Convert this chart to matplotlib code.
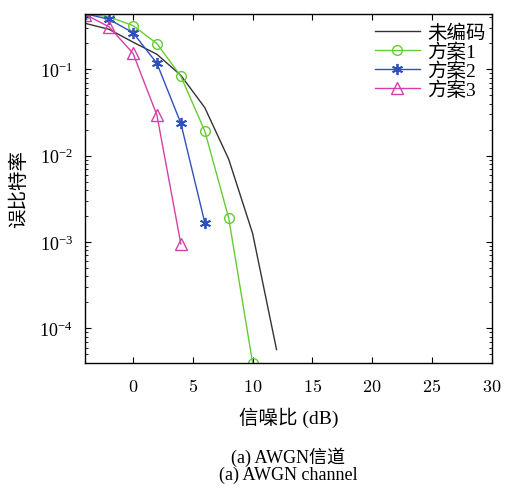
import matplotlib
matplotlib.use("Agg")
from matplotlib import pyplot as plt
import numpy as np

# SNR (dB) and BER
snr_uncoded = [-4, -2, 0, 2, 4, 6, 8, 10, 12]
ber_uncoded = [0.34, 0.29, 0.206, 0.149, 0.085, 0.036, 0.0091, 0.00126, 5.7e-5]

snr_s1 = [-4, -2, 0, 2, 4, 6, 8, 10]
ber_s1 = [0.44, 0.405, 0.32, 0.198, 0.083, 0.0193, 0.0019, 4.0e-5]

snr_s2 = [-4, -2, 0, 2, 4, 6]
ber_s2 = [0.44, 0.378, 0.265, 0.117, 0.0237, 0.00168]

snr_s3 = [-4, -2, 0, 2, 4]
ber_s3 = [0.43, 0.31, 0.153, 0.0294, 0.00095]

labels = ["未编码", "方案1", "方案2", "方案3"]
xticks = [0, 5, 10, 15, 20, 25, 30]

plt.rcParams['mathtext.fontset'] = 'cm'
plt.rcParams['font.family'] = ['Liberation Serif', 'Noto Sans CJK SC']
plt.rcParams['xtick.direction'] = 'in'
plt.rcParams['ytick.direction'] = 'in'
plt.rcParams['xtick.top'] = True
plt.rcParams['ytick.right'] = True

fig = plt.figure(figsize=(5.07, 4.89), dpi=100)
ax = fig.add_axes([0.168, 0.256, 0.802, 0.714])

ax.plot(snr_uncoded, ber_uncoded, color="#333333", lw=1.0, label=labels[0])
ax.plot(snr_s1, ber_s1, color="#66cc33", lw=1.0, marker="o", ms=7,
        mfc="none", mec="#66cc33", label=labels[1])
ax.plot(snr_s2, ber_s2, color="#3050c0", lw=1.0, marker=(6, 2, 0), ms=8,
        mew=1.3, label=labels[2])
ax.plot(snr_s3, ber_s3, color="#d63fa8", lw=1.0, marker="^", ms=8,
        mfc="none", mec="#d63fa8", label=labels[3])

ax.set_yscale("log")
ax.set_xlim(-4, 30)
ax.set_ylim(4.0e-5, 0.44)
ax.set_xticks(xticks)
ax.set_xticklabels([f"${t}$" for t in xticks])
ax.tick_params(labelsize=13, length=4, width=0.8)
ax.tick_params(axis="x", pad=11)
ax.tick_params(axis="y", pad=9)
ax.tick_params(which="minor", length=2, width=0.6)
for s in ax.spines.values():
    s.set_linewidth(1.0)

ax.set_xlabel("信噪比 (dB)", fontsize=14, labelpad=8)
ax.set_ylabel("误比特率", fontsize=14, labelpad=8)

leg = ax.legend(loc="upper right", bbox_to_anchor=(1.0, 0.988), frameon=False,
                fontsize=14, handlelength=2.3, handletextpad=0.4,
                labelspacing=0.02, borderpad=0.2, borderaxespad=0.1)

fig.text(0.568, 1 - 457 / 489, "(a) AWGN信道", ha="center", va="center", fontsize=13)
fig.text(0.568, 1 - 475 / 489, "(a) AWGN channel", ha="center", va="center", fontsize=13)

fig.savefig("out.png", dpi=100)
